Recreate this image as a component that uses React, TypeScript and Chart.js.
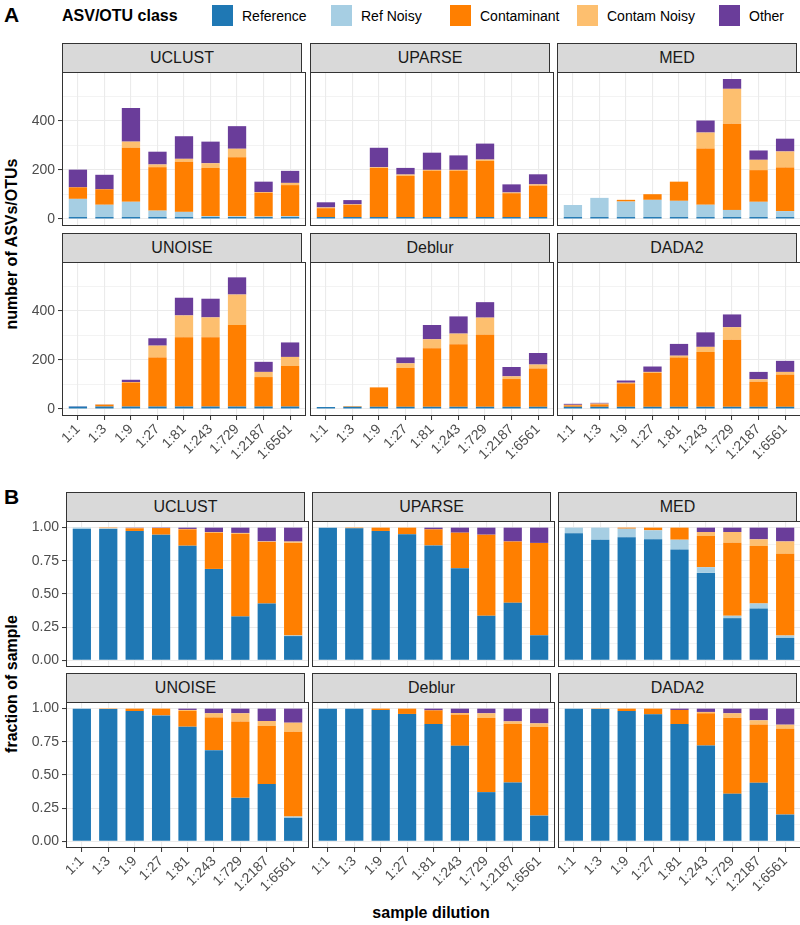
import React, { useEffect, useRef } from "react";
import { Chart, registerables } from "chart.js";
Chart.register(...registerables);

// ---------- data ----------
const dilutions = ["1:1", "1:3", "1:9", "1:27", "1:81", "1:243", "1:729", "1:2187", "1:6561"];
const classNames = ["Reference", "Ref Noisy", "Contaminant", "Contam Noisy", "Other"];
const classColors = ["#1F78B4", "#A6CEE3", "#FF7F00", "#FDBF6F", "#6A3D9A"];
const methodsTop = ["UCLUST", "UPARSE", "MED"];
const methodsBottom = ["UNOISE", "Deblur", "DADA2"];

// counts (rows: classes in order of classNames; columns: dilutions)
const countsUCLUST = [
  [8, 8, 8, 8, 8, 8, 8, 8, 8],
  [74, 50, 62, 26, 21, 4, 3, 2, 4],
  [47, 63, 220, 177, 204, 196, 240, 97, 126],
  [0, 0, 25, 11, 12, 19, 35, 3, 9],
  [72, 59, 137, 52, 92, 88, 92, 42, 49],
];
const countsUPARSE = [
  [8, 8, 8, 8, 8, 8, 8, 8, 8],
  [0, 0, 0, 0, 0, 0, 0, 0, 0],
  [36, 50, 200, 167, 189, 189, 228, 97, 128],
  [3, 2, 3, 6, 3, 3, 6, 3, 5],
  [21, 17, 79, 27, 70, 59, 65, 33, 41],
];
const countsMED = [
  [8, 8, 8, 8, 8, 8, 8, 8, 8],
  [49, 78, 63, 70, 66, 50, 29, 62, 24],
  [0, 0, 7, 23, 78, 229, 351, 129, 178],
  [0, 0, 0, 0, 0, 65, 142, 42, 65],
  [0, 0, 0, 0, 0, 49, 40, 38, 52],
];
const countsUNOISE = [
  [10, 10, 10, 10, 10, 10, 10, 10, 10],
  [0, 0, 0, 0, 0, 0, 0, 0, 0],
  [0, 7, 98, 200, 282, 282, 332, 120, 165],
  [0, 2, 2, 48, 89, 81, 124, 21, 37],
  [1, 1, 9, 30, 72, 76, 70, 41, 59],
];
const countsDeblur = [
  [8, 9, 9, 9, 9, 9, 9, 9, 9],
  [0, 0, 0, 0, 0, 0, 0, 0, 0],
  [0, 2, 79, 158, 238, 255, 293, 113, 156],
  [0, 1, 0, 19, 37, 43, 70, 11, 16],
  [0, 0, 0, 24, 58, 70, 63, 38, 47],
];
const countsDADA2 = [
  [9, 9, 9, 9, 9, 9, 9, 9, 9],
  [0, 0, 0, 0, 0, 0, 0, 0, 0],
  [6, 10, 95, 138, 201, 223, 273, 102, 131],
  [2, 3, 3, 4, 7, 21, 51, 10, 11],
  [4, 3, 9, 22, 48, 59, 52, 30, 45],
];

// fractions of sample
const fracUCLUST = [
  [0.99, 0.99, 0.975, 0.947, 0.864, 0.689, 0.331, 0.429, 0.183],
  [0.01, 0.005, 0, 0, 0, 0, 0, 0, 0.005],
  [0, 0.005, 0.02, 0.05, 0.123, 0.273, 0.621, 0.462, 0.697],
  [0, 0, 0.003, 0, 0.003, 0.005, 0.008, 0.005, 0.01],
  [0, 0, 0.002, 0.003, 0.01, 0.033, 0.04, 0.104, 0.105],
];
const fracUPARSE = [
  [1.0, 0.995, 0.975, 0.95, 0.866, 0.694, 0.336, 0.434, 0.189],
  [0, 0, 0, 0, 0, 0, 0, 0, 0],
  [0, 0.005, 0.025, 0.05, 0.121, 0.268, 0.611, 0.462, 0.696],
  [0, 0, 0, 0, 0, 0, 0, 0, 0],
  [0, 0, 0, 0, 0.013, 0.038, 0.053, 0.104, 0.115],
];
const fracMED = [
  [0.957, 0.909, 0.927, 0.912, 0.836, 0.659, 0.318, 0.391, 0.169],
  [0.043, 0.091, 0.065, 0.068, 0.073, 0.043, 0.018, 0.038, 0.018],
  [0, 0, 0.008, 0.02, 0.091, 0.235, 0.55, 0.432, 0.616],
  [0, 0, 0, 0, 0, 0.03, 0.081, 0.051, 0.093],
  [0, 0, 0, 0, 0, 0.033, 0.033, 0.088, 0.104],
];
const fracUNOISE = [
  [1.0, 0.997, 0.982, 0.949, 0.864, 0.687, 0.328, 0.432, 0.177],
  [0, 0, 0, 0, 0, 0, 0, 0, 0.01],
  [0, 0.003, 0.018, 0.051, 0.118, 0.247, 0.576, 0.437, 0.639],
  [0, 0, 0, 0, 0.008, 0.031, 0.061, 0.038, 0.068],
  [0, 0, 0, 0, 0.01, 0.035, 0.035, 0.093, 0.106],
];
const fracDeblur = [
  [1.0, 1.0, 0.99, 0.96, 0.884, 0.72, 0.371, 0.444, 0.194],
  [0, 0, 0, 0, 0, 0, 0, 0, 0],
  [0, 0, 0.01, 0.04, 0.103, 0.235, 0.558, 0.44, 0.667],
  [0, 0, 0, 0, 0, 0.012, 0.036, 0.02, 0.028],
  [0, 0, 0, 0, 0.013, 0.033, 0.035, 0.096, 0.111],
];
const fracDADA2 = [
  [1.0, 0.997, 0.982, 0.957, 0.884, 0.722, 0.359, 0.442, 0.202],
  [0, 0, 0, 0, 0, 0, 0, 0, 0],
  [0, 0.003, 0.018, 0.043, 0.106, 0.243, 0.573, 0.439, 0.646],
  [0, 0, 0, 0, 0, 0.01, 0.033, 0.031, 0.031],
  [0, 0, 0, 0, 0.01, 0.025, 0.035, 0.088, 0.121],
];

const countTicks = [0, 100, 200, 300, 400, 500];
const countMajor = [0, 200, 400];
const fracTicks = [0, 0.125, 0.25, 0.375, 0.5, 0.625, 0.75, 0.875, 1.0];
const fracMajor = [0, 0.25, 0.5, 0.75, 1.0];

// ---------- layout ----------
const FONT = "'Liberation Sans', Arial, Helvetica, sans-serif";
const A_COLS = [[62, 302], [310, 550], [557, 797]];
const B_COLS = [[66, 305], [312, 551], [558, 797]];
const A_ROWS = [{ strip: 43, top: 72, bottom: 226 }, { strip: 233, top: 262, bottom: 416 }];
const B_ROWS = [{ strip: 492, top: 521, bottom: 667 }, { strip: 673, top: 702, bottom: 848 }];

const borderPlugin = {
  id: "panelBorder",
  afterDatasetsDraw(chart: any) {
    const { ctx, chartArea: a } = chart;
    ctx.save();
    ctx.strokeStyle = "#333333";
    ctx.lineWidth = 1;
    ctx.strokeRect(a.left + 0.5, a.top + 0.5, a.right - a.left - 1, a.bottom - a.top - 1);
    ctx.restore();
  },
};

type PanelProps = {
  series: number[][];
  left: number;
  right: number;
  top: number;
  bottom: number;
  showY: boolean;
  showX: boolean;
  yMin: number;
  yMax: number;
  yTicks: number[];
  yMajor: number[];
  yFmt: (v: number) => string;
};

function Panel(p: PanelProps) {
  const ref = useRef<HTMLCanvasElement>(null);
  const LP = 60;
  const RP = 4;
  const BP = p.showX ? 62 : 0;
  const W = p.right - p.left;
  const H = p.bottom - p.top;
  useEffect(() => {
    const isMajor = (v: number) => p.yMajor.some((m) => Math.abs(m - v) < 1e-9);
    const chart = new Chart(ref.current as HTMLCanvasElement, {
      type: "bar",
      data: {
        datasets: classNames.map((name, k) => ({
          label: name,
          data: p.series[k].map((v, i) => ({ x: i + 1, y: v })),
          backgroundColor: classColors[k],
          borderWidth: 0,
          categoryPercentage: 1,
          barPercentage: 0.69,
        })),
      } as any,
      options: {
        animation: false,
        responsive: false,
        maintainAspectRatio: false,
        layout: { padding: 0 },
        plugins: { legend: { display: false }, tooltip: { enabled: false } },
        scales: {
          x: {
            type: "linear",
            min: 0.4,
            max: 9.6,
            offset: false,
            stacked: true,
            grid: {
              offset: false,
              color: "#EBEBEB",
              lineWidth: 1.1,
              drawTicks: p.showX,
              tickLength: 4,
              tickColor: "#333333",
              tickWidth: 1,
            },
            border: { display: false },
            ticks: {
              display: p.showX,
              autoSkip: false,
              minRotation: 45,
              maxRotation: 45,
              padding: 1,
              color: "#4D4D4D",
              font: { family: FONT, size: 14 },
              callback: (v: any) => dilutions[Math.round(Number(v)) - 1] ?? "",
            },
            afterBuildTicks: (s: any) => {
              s.ticks = dilutions.map((_, i) => ({ value: i + 1 }));
            },
            afterFit: (s: any) => {
              s.height = BP;
              s.paddingLeft = 0;
              s.paddingRight = 0;
            },
          },
          y: {
            type: "linear",
            min: p.yMin,
            max: p.yMax,
            stacked: true,
            grid: {
              color: "#EBEBEB",
              lineWidth: (c: any) => (c.tick && isMajor(c.tick.value) ? 1.1 : 0.6),
              drawTicks: p.showY,
              tickLength: 4,
              tickColor: (c: any) => (c.tick && isMajor(c.tick.value) ? "#333333" : "rgba(0,0,0,0)"),
              tickWidth: 1,
            },
            border: { display: false },
            ticks: {
              display: p.showY,
              padding: 3,
              color: "#4D4D4D",
              font: { family: FONT, size: 14 },
              callback: (v: any) => (isMajor(Number(v)) ? p.yFmt(Number(v)) : ""),
            },
            afterBuildTicks: (s: any) => {
              s.ticks = p.yTicks.map((v) => ({ value: v }));
            },
            afterFit: (s: any) => {
              s.width = LP;
              s.paddingTop = 0;
              s.paddingBottom = 0;
            },
          },
        },
      } as any,
      plugins: [borderPlugin],
    });
    return () => chart.destroy();
  }, []);
  return (
    <canvas
      ref={ref}
      width={LP + W + RP}
      height={H + BP}
      style={{ position: "absolute", left: p.left - LP, top: p.top, width: LP + W + RP, height: H + BP }}
    />
  );
}

function Strip({ label, left, right, top, bottom }: { label: string; left: number; right: number; top: number; bottom: number }) {
  return (
    <div
      style={{
        position: "absolute",
        left,
        top,
        width: right - left,
        height: bottom - top + 1,
        boxSizing: "border-box",
        background: "#D9D9D9",
        border: "1px solid #333333",
        display: "flex",
        alignItems: "center",
        justifyContent: "center",
        fontFamily: FONT,
        fontSize: 16,
        color: "#1A1A1A",
        zIndex: 2,
      }}
    >
      {label}
    </div>
  );
}

const legendBoxLeft = [212, 331, 450, 577, 719];

export default function App() {
  const elems: React.ReactNode[] = [];
  const sectA = [
    [countsUCLUST, countsUPARSE, countsMED],
    [countsUNOISE, countsDeblur, countsDADA2],
  ];
  const sectB = [
    [fracUCLUST, fracUPARSE, fracMED],
    [fracUNOISE, fracDeblur, fracDADA2],
  ];
  const names = [methodsTop, methodsBottom];
  for (let r = 0; r < 2; r++) {
    for (let c = 0; c < 3; c++) {
      const ra = A_ROWS[r];
      const ca = A_COLS[c];
      elems.push(
        <Strip key={`sa${r}${c}`} label={names[r][c]} left={ca[0]} right={ca[1]} top={ra.strip} bottom={ra.top} />
      );
      elems.push(
        <Panel
          key={`pa${r}${c}`}
          series={sectA[r][c]}
          left={ca[0]}
          right={ca[1]}
          top={ra.top}
          bottom={ra.bottom}
          showY={c === 0}
          showX={r === 1}
          yMin={-28.5}
          yMax={598.5}
          yTicks={countTicks}
          yMajor={countMajor}
          yFmt={(v) => String(Math.round(v))}
        />
      );
      const rb = B_ROWS[r];
      const cb = B_COLS[c];
      elems.push(
        <Strip key={`sb${r}${c}`} label={names[r][c]} left={cb[0]} right={cb[1]} top={rb.strip} bottom={rb.top} />
      );
      elems.push(
        <Panel
          key={`pb${r}${c}`}
          series={sectB[r][c]}
          left={cb[0]}
          right={cb[1]}
          top={rb.top}
          bottom={rb.bottom}
          showY={c === 0}
          showX={r === 1}
          yMin={-0.05}
          yMax={1.05}
          yTicks={fracTicks}
          yMajor={fracMajor}
          yFmt={(v) => v.toFixed(2)}
        />
      );
    }
  }

  const yTitle = (top: number): React.CSSProperties => ({
    position: "absolute",
    left: 12,
    top,
    transform: "translate(-50%, -50%) rotate(-90deg)",
    whiteSpace: "nowrap",
    fontSize: 16,
    fontWeight: "bold",
    color: "#000",
  });

  return (
    <div style={{ position: "absolute", left: 0, top: 0, width: 800, height: 925, background: "#FFFFFF", fontFamily: FONT, overflow: "hidden" }}>
      {/* panel letters */}
      <div style={{ position: "absolute", left: 4, top: 3, fontSize: 21, fontWeight: "bold", color: "#000" }}>A</div>
      <div style={{ position: "absolute", left: 4, top: 485, fontSize: 21, fontWeight: "bold", color: "#000" }}>B</div>
      {/* legend */}
      <div style={{ position: "absolute", left: 62, top: 6, fontSize: 16, fontWeight: "bold", color: "#000", lineHeight: "20px" }}>
        ASV/OTU class
      </div>
      {classNames.map((n, i) => (
        <React.Fragment key={n}>
          <div
            style={{ position: "absolute", left: legendBoxLeft[i], top: 5, width: 21, height: 21, background: classColors[i] }}
          />
          <div style={{ position: "absolute", left: legendBoxLeft[i] + 30, top: 6, fontSize: 14, color: "#000", lineHeight: "20px" }}>
            {n}
          </div>
        </React.Fragment>
      ))}
      {/* axis titles */}
      <div style={yTitle(244)}>number of ASVs/OTUs</div>
      <div style={yTitle(684)}>fraction of sample</div>
      <div
        style={{
          position: "absolute",
          left: 431,
          top: 913,
          transform: "translate(-50%, -50%)",
          whiteSpace: "nowrap",
          fontSize: 16,
          fontWeight: "bold",
          color: "#000",
        }}
      >
        sample dilution
      </div>
      {elems}
    </div>
  );
}
